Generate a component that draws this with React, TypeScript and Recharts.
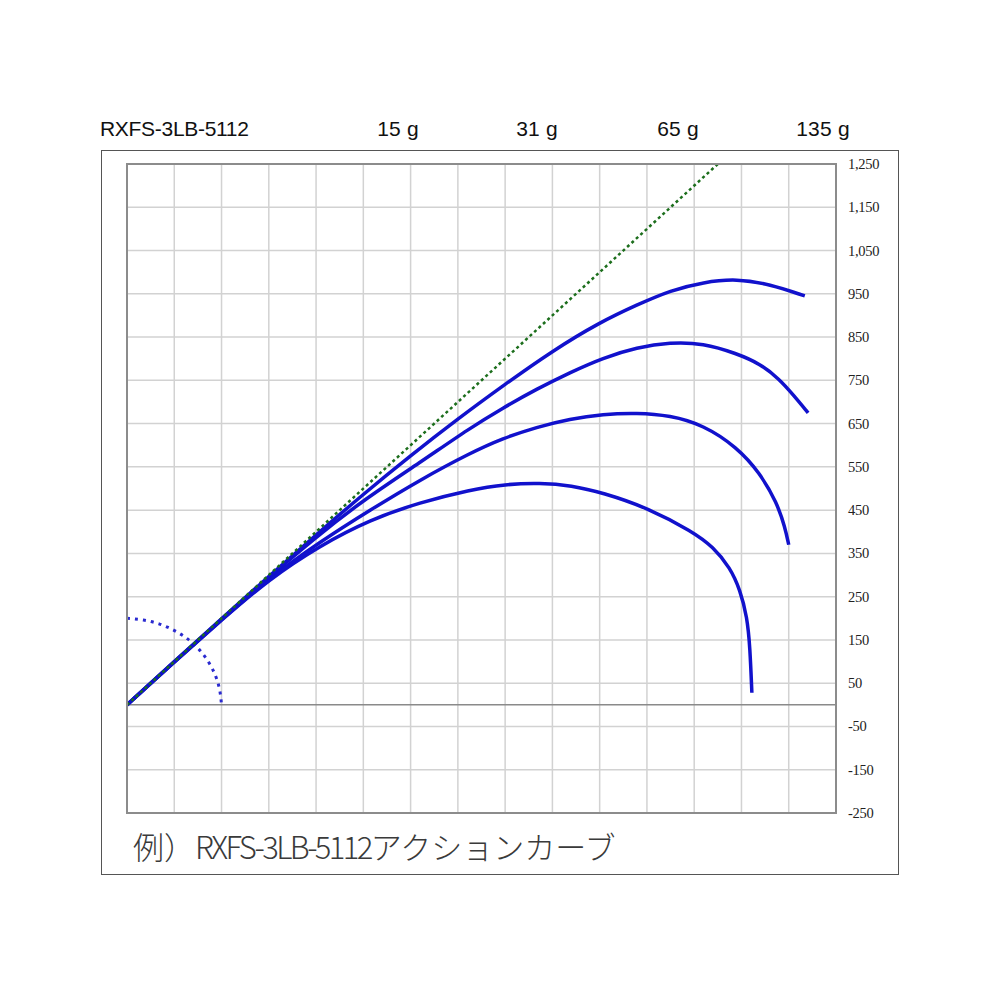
import React from "react";
import {
  LineChart, Line, XAxis, YAxis, CartesianGrid, ReferenceLine
} from "recharts";

// ── 軸 ───────────────────────────────────────────────────────────────────────
const X_TICKS = [0, 100, 200, 300, 400, 500, 600, 700, 800, 900, 1000, 1100, 1200, 1300, 1400, 1500];
const Y_TICKS = [-250, -150, -50, 50, 150, 250, 350, 450, 550, 650, 750, 850, 950, 1050, 1150, 1250];

// 上部ラベル（錘の重さ）
const MODEL = "RXFS-3LB-5112";
const WEIGHTS = ["15 g", "31 g", "65 g", "135 g"];
const CAPTION_PREFIX = "例）";
const CAPTION_SUFFIX = "アクションカーブ";

// ── カーブ（[x, y]、図から読み取り）─────────────────────────────────────────
const STRAIGHT = [[0, 0], [1250, 1250]];
const CURVE_15 = [[0, 0], [100, 100], [200, 199], [300, 297], [400, 393], [500, 487], [600, 576], [700, 661], [800, 741], [900, 818], [1000, 884], [1080, 925], [1150, 958], [1220, 977], [1290, 985], [1360, 972], [1434, 945]];
const CURVE_31 = [[0, 0], [100, 100], [200, 198], [300, 295], [400, 388], [500, 473], [620, 560], [726, 640], [795, 686], [867, 730], [937, 768], [1007, 802], [1079, 826], [1149, 838], [1219, 836], [1290, 812], [1340, 788], [1380, 753], [1410, 716], [1441, 675]];
const CURVE_65 = [[0, 0], [100, 99], [200, 197], [300, 292], [410, 378], [514, 450], [620, 520], [726, 582], [795, 616], [867, 642], [937, 661], [1007, 672], [1079, 675], [1149, 669], [1219, 647], [1290, 596], [1339, 536], [1375, 467], [1392, 411], [1400, 370]];
const CURVE_135 = [[0, 0], [100, 99], [200, 196], [300, 290], [408, 368], [514, 428], [620, 468], [726, 497], [800, 510], [874, 513], [940, 507], [1007, 490], [1100, 456], [1197, 400], [1240, 365], [1276, 317], [1297, 266], [1312, 203], [1318, 134], [1322, 28]];
const ARC = [[0, 200], [35, 197], [68, 188], [100, 173], [129, 153], [153, 129], [173, 100], [188, 68], [197, 35], [200, 0]];

const toRows = (pts: number[][]) => pts.map(([x, y]) => ({ x, y }));

const BLUE = "#1111cc";
const fmt = (v: number) => v.toLocaleString("en-US");
const LABEL_FONT = "'Liberation Sans', Arial, sans-serif";

function RightTick({ x, y, payload }: any) {
  return (
    <text x={x} y={y} dy={5} textAnchor="start" fontSize={14.5} fontFamily="'Liberation Serif', serif" fill="#222" letterSpacing={-0.3}>
      {fmt(payload.value)}
    </text>
  );
}

export default function App() {
  return (
    <div style={{ position: "absolute", left: 0, top: 0, width: 1000, height: 1000, background: "#fff" }}>
      {/* 上部ラベル */}
      <div style={{ position: "absolute", left: 100, top: 117, fontFamily: LABEL_FONT, fontSize: 21, letterSpacing: -0.3, color: "#111", whiteSpace: "nowrap" }}>
        {MODEL}
      </div>
      {WEIGHTS.map((w, i) => (
        <div key={w} style={{ position: "absolute", left: [398, 537, 678, 823][i] - 40, width: 80, textAlign: "center", top: 117, fontFamily: LABEL_FONT, fontSize: 21, letterSpacing: 0.2, color: "#111" }}>
          {w}
        </div>
      ))}

      {/* 外枠 */}
      <div style={{ position: "absolute", left: 101, top: 150, width: 798, height: 725, boxSizing: "border-box", border: "1.5px solid #555" }} />

      <div style={{ position: "absolute", left: 117, top: 154 }}>
        <LineChart width={789} height={669} margin={{ top: 10, right: 10, bottom: 10, left: 10 }}>
          <CartesianGrid stroke="#d2d2d2" strokeWidth={1.5} />
          <XAxis type="number" dataKey="x" domain={[0, 1500]} ticks={X_TICKS} hide allowDataOverflow />
          <YAxis
            type="number"
            orientation="right"
            domain={[-250, 1250]}
            ticks={Y_TICKS}
            width={60}
            axisLine={false}
            tickLine={false}
            tickSize={0}
            tickMargin={12}
            tick={<RightTick />}
            allowDataOverflow
          />
          <ReferenceLine y={0} stroke="#8a8a8a" strokeWidth={1.5} />
          <Line data={toRows(ARC)} dataKey="y" type="basis" stroke="#2a2ad0" strokeWidth={3} strokeDasharray="3 5" dot={false} isAnimationActive={false} />
          <Line data={toRows(CURVE_135)} dataKey="y" type="basis" stroke={BLUE} strokeWidth={3.5} dot={false} isAnimationActive={false} />
          <Line data={toRows(CURVE_65)} dataKey="y" type="basis" stroke={BLUE} strokeWidth={3.5} dot={false} isAnimationActive={false} />
          <Line data={toRows(CURVE_31)} dataKey="y" type="basis" stroke={BLUE} strokeWidth={3.5} dot={false} isAnimationActive={false} />
          <Line data={toRows(CURVE_15)} dataKey="y" type="basis" stroke={BLUE} strokeWidth={3.5} dot={false} isAnimationActive={false} />
          <Line data={toRows(STRAIGHT)} dataKey="y" type="linear" stroke="#1c6e1c" strokeWidth={2.5} strokeDasharray="3 3" dot={false} isAnimationActive={false} />
        </LineChart>
      </div>

      {/* プロット枠 */}
      <div style={{ position: "absolute", left: 126, top: 163, width: 711, height: 651, boxSizing: "border-box", border: "2px solid #8c8c8c", pointerEvents: "none" }} />

      {/* キャプション */}
      <div style={{ position: "absolute", left: 133, top: 826, fontFamily: "'Noto Sans CJK JP', sans-serif", fontSize: 31, fontWeight: 300, color: "#3a3a3a", whiteSpace: "nowrap", lineHeight: "40px" }}>
        {CAPTION_PREFIX}
        <span style={{ letterSpacing: -2.6 }}>{MODEL}</span>
        {CAPTION_SUFFIX}
      </div>
    </div>
  );
}
